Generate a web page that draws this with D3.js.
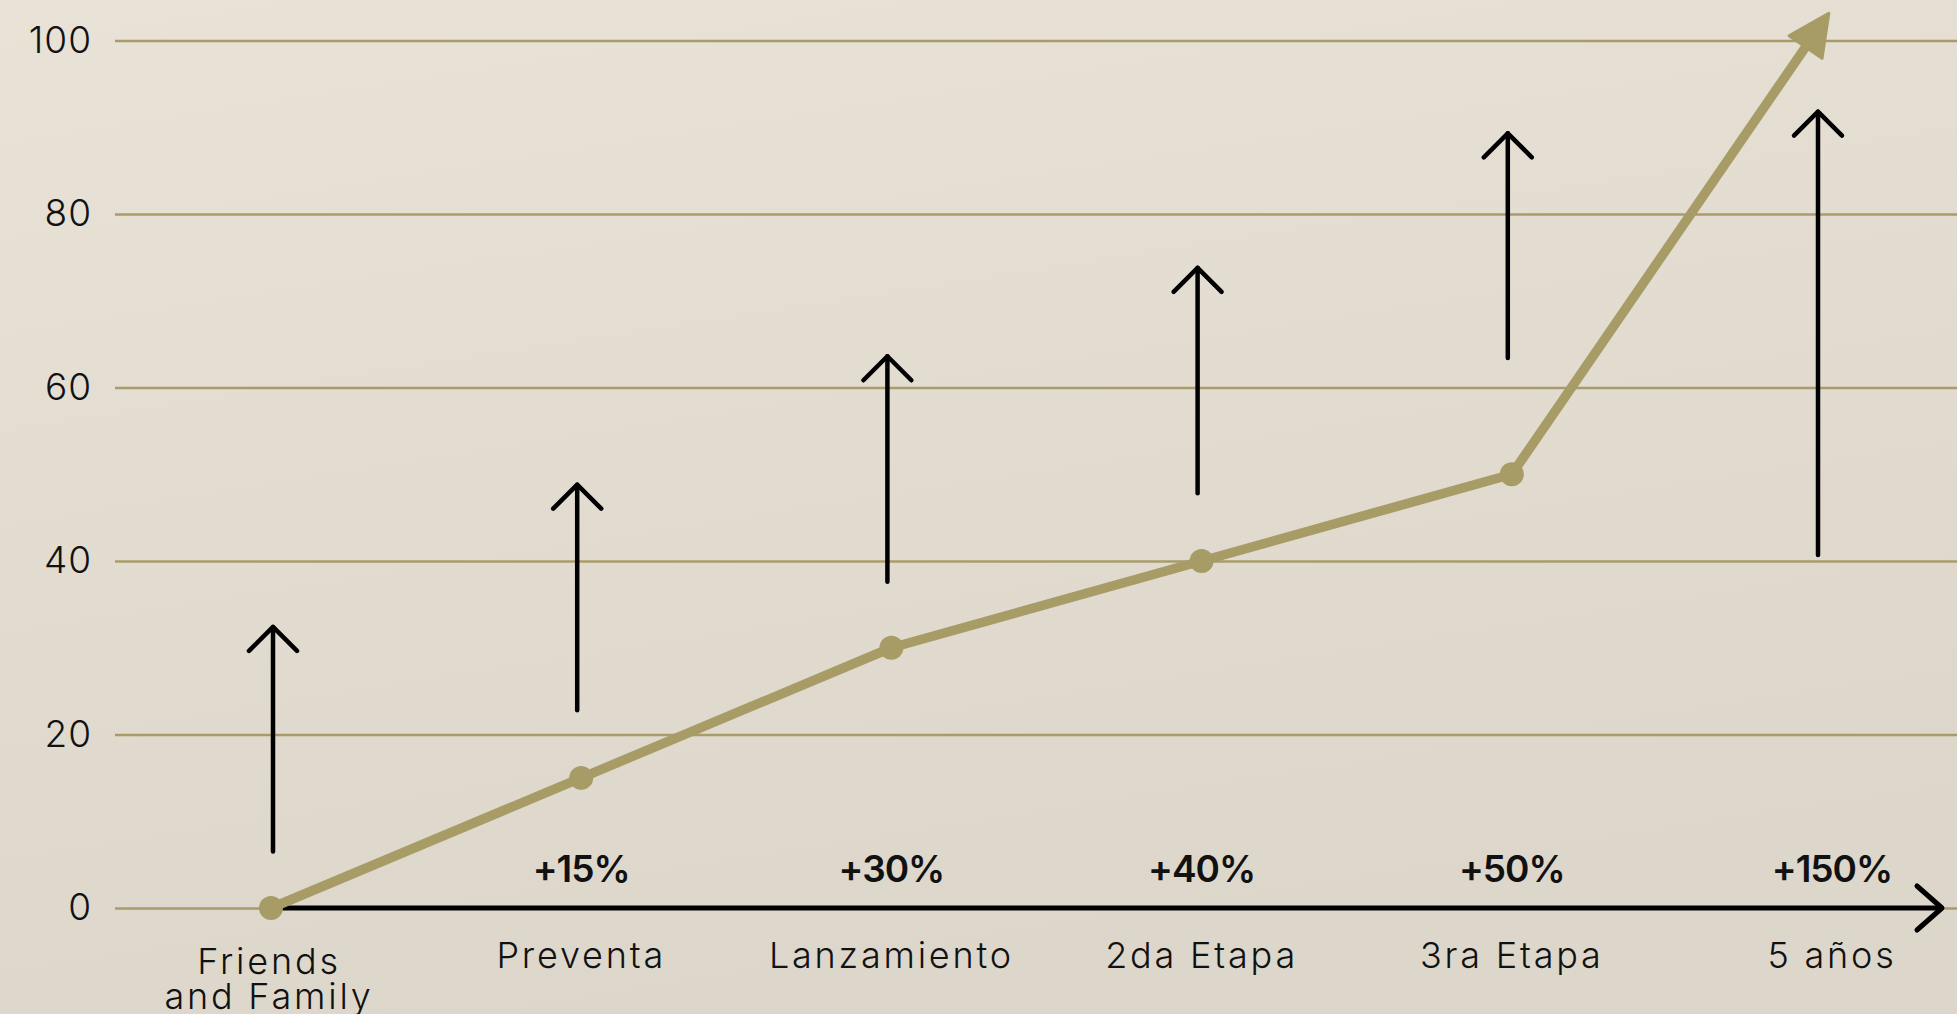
<!DOCTYPE html>
<html>
<head>
<meta charset="utf-8">
<script src="https://cdn.jsdelivr.net/npm/d3@7"></script>
<style>
  html, body { margin: 0; padding: 0; overflow: hidden; }
  svg { display: block; }
</style>
</head>
<body>
<div id="chart"></div>
<script>
// data
var stages = ["Friends and Family", "Preventa", "Lanzamiento", "2da Etapa", "3ra Etapa", "5 años"];
var growth = [0, 15, 30, 40, 50, 102];
var pctLabels = ["", "+15%", "+30%", "+40%", "+50%", "+150%"];
var arrowFrom = [6.5, 22.8, 37.6, 47.8, 63.4, 40.7];
var arrowTo = [32.4, 48.8, 63.6, 73.8, 89.3, 91.8];
var yTicks = [0, 20, 40, 60, 80, 100];

var width = 1957, height = 1014;
var gold = "#a79b66";

var svg = d3.select("#chart").append("svg")
    .attr("width", width)
    .attr("height", height);

var defs = svg.append("defs");
var bg = defs.append("linearGradient")
    .attr("id", "bg")
    .attr("x1", 0).attr("y1", 0).attr("x2", 0.3).attr("y2", 1);
bg.append("stop").attr("offset", 0).attr("stop-color", "#e8e2d7");
bg.append("stop").attr("offset", 1).attr("stop-color", "#ddd6ca");

defs.append("marker")
    .attr("id", "goldHead")
    .attr("markerUnits", "userSpaceOnUse")
    .attr("viewBox", "-40 -26 58 52")
    .attr("refX", 0).attr("refY", 0)
    .attr("markerWidth", 58).attr("markerHeight", 52)
    .attr("orient", "auto")
    .append("path")
    .attr("d", "M-29,-20L12,0L-29,20Z")
    .attr("fill", gold)
    .attr("stroke", gold)
    .attr("stroke-width", 3)
    .attr("stroke-linejoin", "round");

svg.append("rect")
    .attr("width", width).attr("height", height)
    .attr("fill", "url(#bg)");

var x = d3.scalePoint().domain(stages).range([271, 1822]);
var y = d3.scaleLinear().domain([0, 100]).range([908, 40.5]);

// y axis with gridlines
var gridLeft = 115;
var yAxis = svg.append("g")
    .attr("transform", "translate(" + gridLeft + ",0)")
    .call(d3.axisLeft(y).tickValues(yTicks).tickSize(-(width - gridLeft)).tickPadding(23));
yAxis.select(".domain").remove();
yAxis.selectAll(".tick line")
    .attr("stroke", "#a99c6a")
    .attr("stroke-width", 2.5);
yAxis.selectAll(".tick text")
    .attr("fill", "#111")
    .style("font-family", "Inter, 'Noto Sans', sans-serif")
    .style("font-weight", 300)
    .style("font-size", "37px")
    .style("letter-spacing", "1px");

// x axis: black line with open arrow head
var axisY = y(0);
var axisEnd = 1942;
svg.append("line")
    .attr("x1", x(stages[0])).attr("x2", axisEnd - 2)
    .attr("y1", axisY).attr("y2", axisY)
    .attr("stroke", "#000").attr("stroke-width", 5);
svg.append("path")
    .attr("d", "M" + (axisEnd - 25) + "," + (axisY - 22) + "L" + axisEnd + "," + axisY + "L" + (axisEnd - 25) + "," + (axisY + 22))
    .attr("fill", "none")
    .attr("stroke", "#000").attr("stroke-width", 5)
    .attr("stroke-linecap", "round").attr("stroke-linejoin", "round");

// black up arrows (sit a few px left of the points)
function ax(d, i) { return x(d) + (i === 0 ? 2 : -4); }
var arrows = svg.append("g").selectAll("g")
    .data(stages)
    .enter().append("g");
arrows.append("line")
    .attr("x1", ax)
    .attr("x2", ax)
    .attr("y1", function (d, i) { return y(arrowFrom[i]); })
    .attr("y2", function (d, i) { return y(arrowTo[i]); })
    .attr("stroke", "#000").attr("stroke-width", 4.5)
    .attr("stroke-linecap", "round");
arrows.append("path")
    .attr("d", function (d, i) {
        var cx = ax(d, i), cy = y(arrowTo[i]);
        return "M" + (cx - 24) + "," + (cy + 24) + "L" + cx + "," + cy + "L" + (cx + 24) + "," + (cy + 24);
    })
    .attr("fill", "none")
    .attr("stroke", "#000").attr("stroke-width", 4.5)
    .attr("stroke-linecap", "round").attr("stroke-linejoin", "round");

// gold growth line
var line = d3.line()
    .x(function (d, i) { return x(stages[i]); })
    .y(function (d) { return y(d); });
svg.append("path")
    .datum(growth)
    .attr("d", line)
    .attr("fill", "none")
    .attr("stroke", gold)
    .attr("stroke-width", 9.5)
    .attr("stroke-linejoin", "round")
    .attr("marker-end", "url(#goldHead)");

svg.append("g").selectAll("circle")
    .data(growth.slice(0, 5))
    .enter().append("circle")
    .attr("cx", function (d, i) { return x(stages[i]); })
    .attr("cy", function (d) { return y(d); })
    .attr("r", 12)
    .attr("fill", gold);

// percentage labels
svg.append("g").selectAll("text")
    .data(pctLabels)
    .enter().append("text")
    .attr("x", function (d, i) { return x(stages[i]) + (i === 5 ? 10 : 0); })
    .attr("y", 882)
    .attr("text-anchor", "middle")
    .style("font-family", "Inter, 'Noto Sans', sans-serif")
    .style("font-weight", 600)
    .style("font-size", "37px")
    .style("letter-spacing", "-1px")
    .attr("fill", "#111")
    .text(function (d) { return d; });

// category labels
var catLabels = svg.append("g").selectAll("text")
    .data(stages)
    .enter().append("text")
    .attr("x", function (d, i) { return x(d) + (i === 5 ? 10 : 0); })
    .attr("y", 968)
    .attr("text-anchor", "middle")
    .style("font-family", "Inter, 'Noto Sans', sans-serif")
    .style("font-weight", 300)
    .style("font-size", "36px")
    .style("letter-spacing", "2.8px")
    .attr("fill", "#111");
catLabels.each(function (d, i) {
    var t = d3.select(this);
    if (i === 0) {
        t.append("tspan").attr("x", x(d) - 2).attr("y", 974).text("Friends");
        t.append("tspan").attr("x", x(d) - 2).attr("y", 1009).text("and Family");
    } else {
        t.text(d);
    }
});
</script>
</body>
</html>
